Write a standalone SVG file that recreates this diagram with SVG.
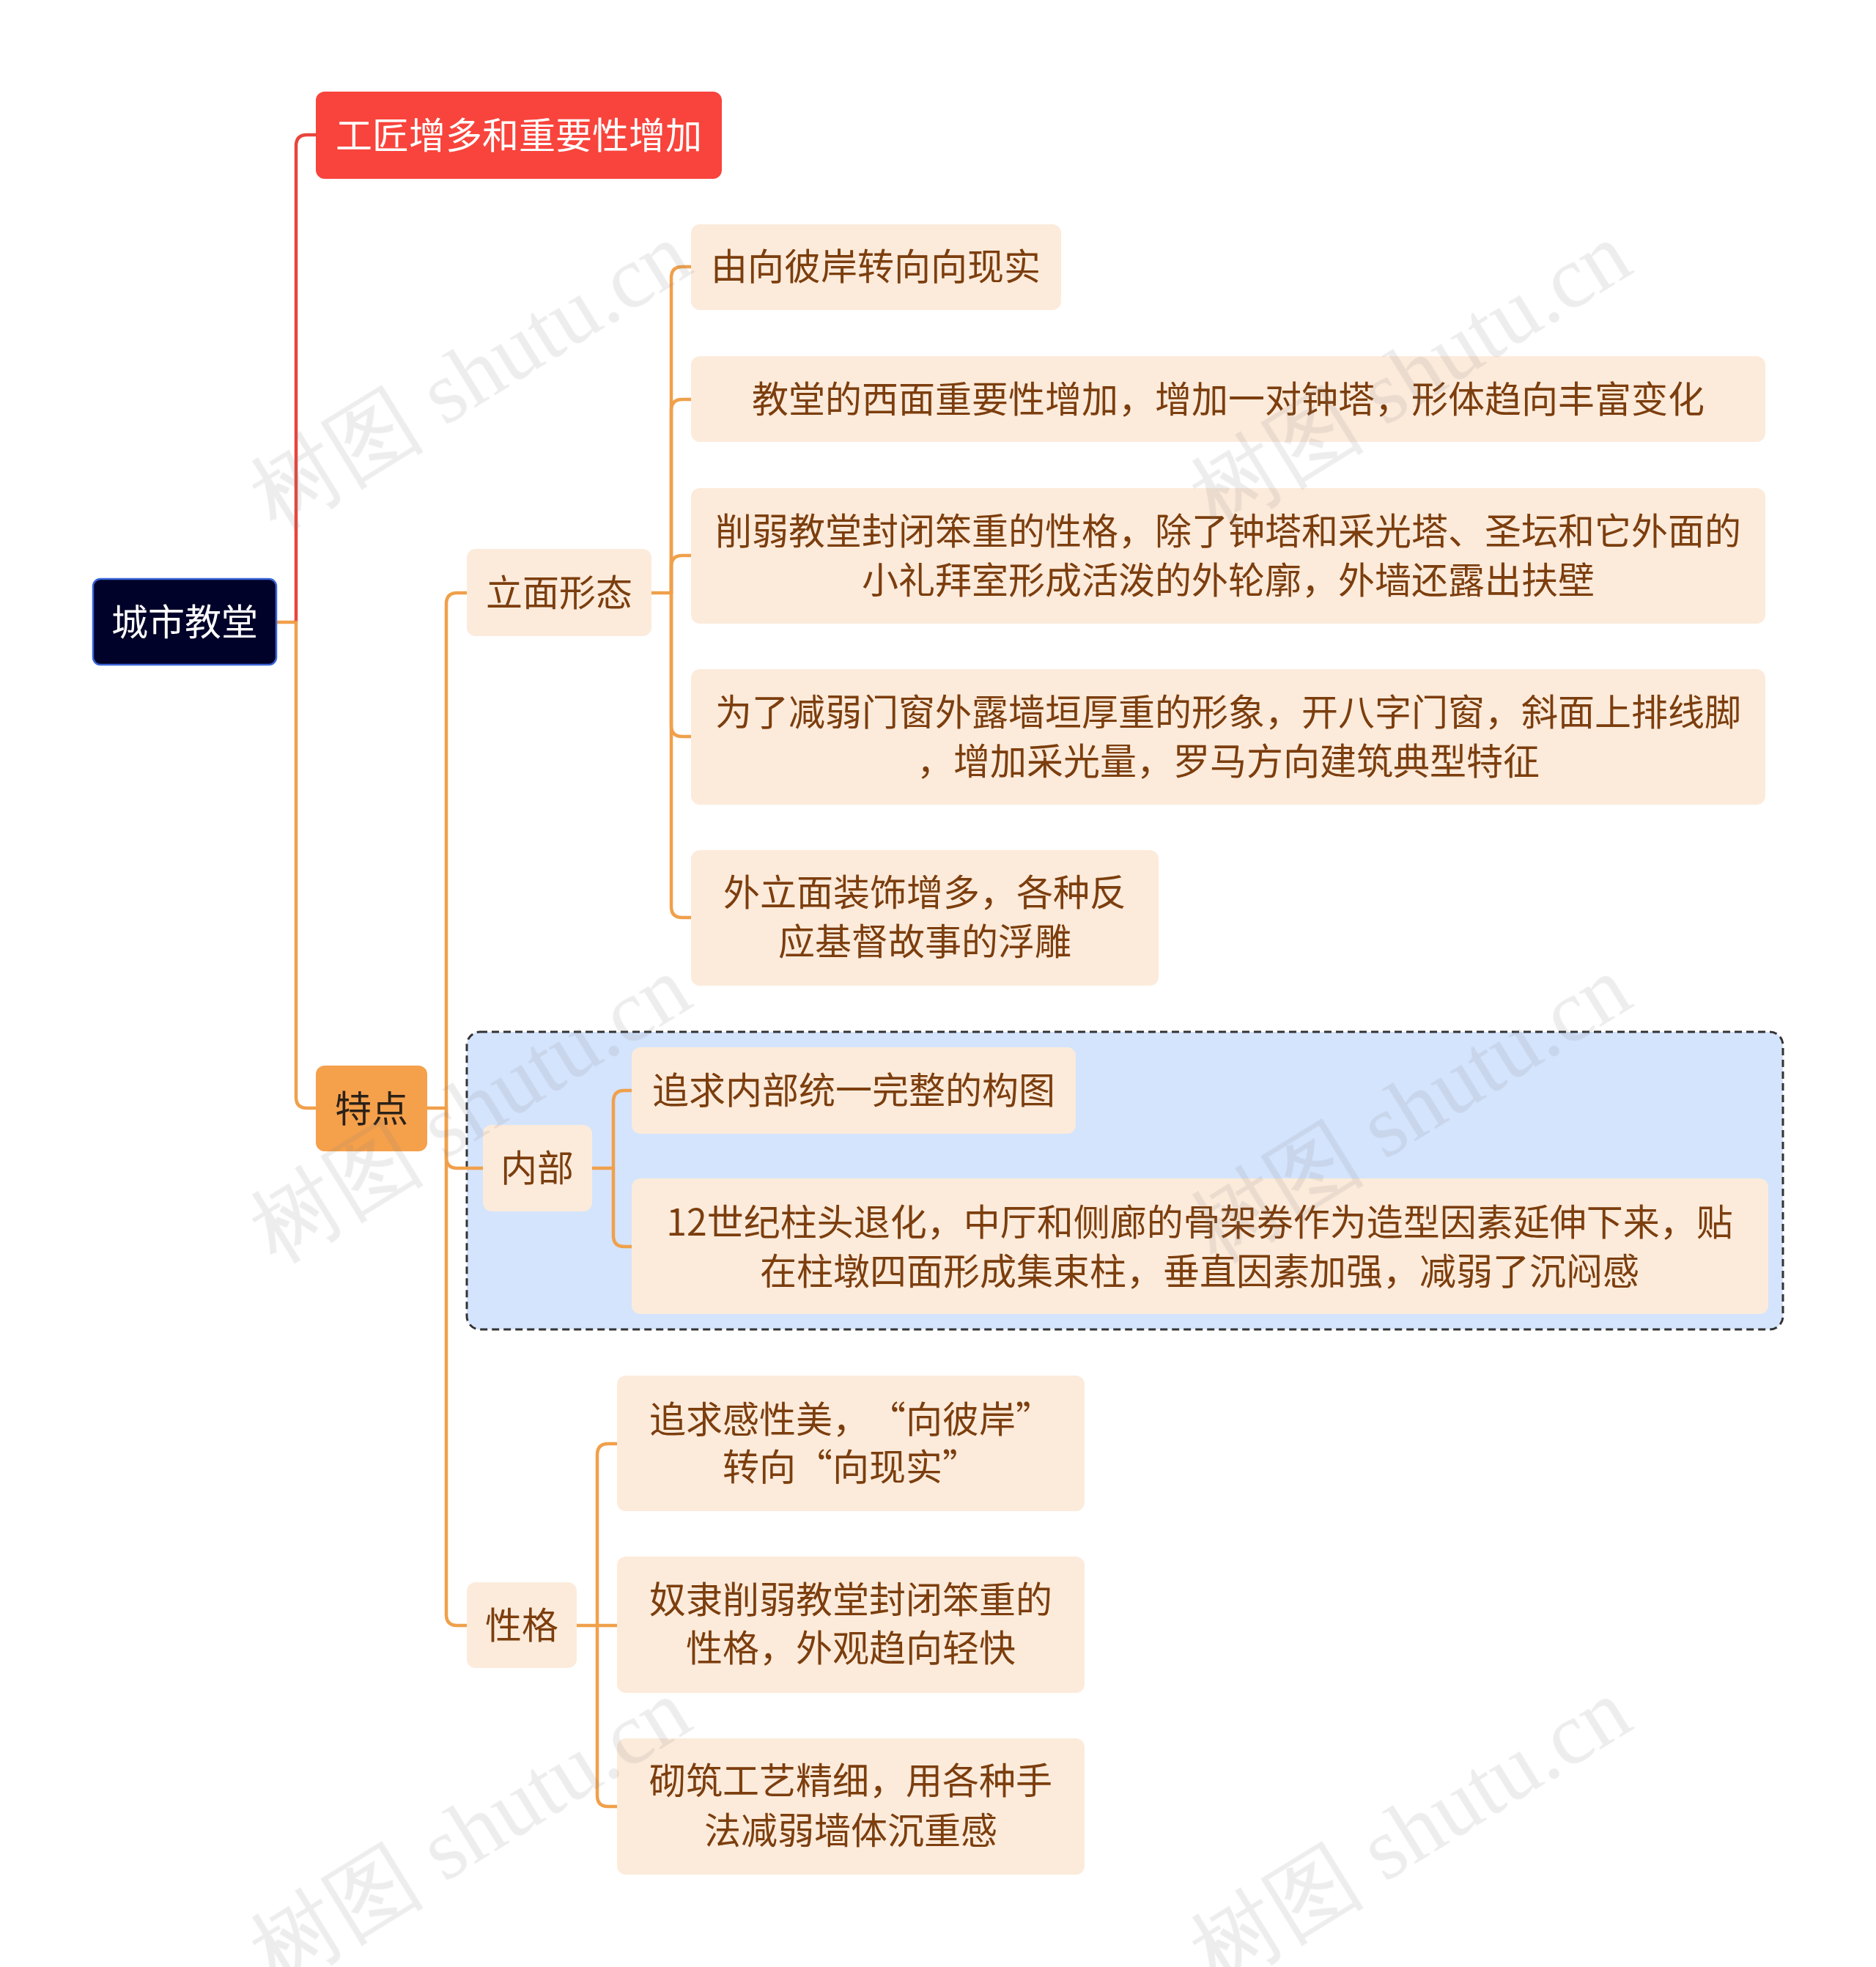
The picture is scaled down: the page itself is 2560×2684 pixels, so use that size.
<svg xmlns="http://www.w3.org/2000/svg" width="2560" height="2684" viewBox="0 0 2560 2684">
<style>
text{font-family:"Noto Sans CJK SC","Noto Sans",sans-serif;font-size:50px;text-anchor:middle;text-spacing-trim:space-all}
.t{fill:#7C3E0E}
.q{font-feature-settings:"fwid"}
.n{fill:#FCEBDB}
.c{fill:none;stroke:#F0A04B;stroke-width:4.5;stroke-linecap:round}
.r{fill:none;stroke:#E8453C;stroke-width:4.5;stroke-linecap:round}
.wm{font-family:"Liberation Serif",serif;font-size:120px;fill:#808080;opacity:0.38}
</style>
<rect width="2560" height="2684" fill="#FFFFFF"/>
<g id="boundary">
<rect x="637" y="1408" width="1796" height="406" rx="18" fill="#D4E4FC" stroke="#333" stroke-width="3" stroke-dasharray="10 6"/>
</g>
<g id="connectors">
<path class="c" d="M377,849 H404"/>
<path class="r" d="M404,849 V199 Q404,184 419,184 H431"/>
<path class="c" d="M404,849 V1497 Q404,1512 419,1512 H431"/>
<path class="c" d="M583,1512 H609"/>
<path class="c" d="M609,1512 V824 Q609,809 624,809 H637"/>
<path class="c" d="M609,1512 V1579 Q609,1594 624,1594 H659"/>
<path class="c" d="M609,1512 V2203 Q609,2218 624,2218 H637"/>
<path class="c" d="M889,809 H916"/>
<path class="c" d="M916,809 V379 Q916,364 931,364 H943"/>
<path class="c" d="M916,809 V560 Q916,545 931,545 H943"/>
<path class="c" d="M916,809 V773 Q916,758 931,758 H943"/>
<path class="c" d="M916,809 V990 Q916,1005 931,1005 H943"/>
<path class="c" d="M916,809 V1237 Q916,1252 931,1252 H943"/>
<path class="c" d="M808,1594 H837"/>
<path class="c" d="M837,1594 V1503 Q837,1488 852,1488 H862"/>
<path class="c" d="M837,1594 V1686 Q837,1701 852,1701 H862"/>
<path class="c" d="M787,2218 H842"/>
<path class="c" d="M815,2218 V1985 Q815,1970 830,1970 H842"/>
<path class="c" d="M815,2218 V2450 Q815,2465 830,2465 H842"/>
</g>
<g id="root">
<rect x="127" y="790" width="250" height="117" rx="10" fill="#000229" stroke="#3A64D8" stroke-width="2.5"/>
<text x="252" y="867" fill="#FFFFFF">城市教堂</text>
</g>
<g id="n-craftsmen">
<rect x="431" y="125" width="554" height="119" rx="12" fill="#F8443C"/>
<text x="708" y="203" fill="#FFFFFF">工匠增多和重要性增加</text>
</g>
<g id="n-features">
<rect x="431" y="1454" width="152" height="117" rx="12" fill="#F5A04B"/>
<text x="507" y="1531" fill="#2B2118">特点</text>
</g>
<g id="n-facade">
<rect class="n" x="637" y="749" width="252" height="119" rx="12"/>
<text class="t" x="763" y="827">立面形态</text>
</g>
<g id="n-f1">
<rect class="n" x="943" y="306" width="505" height="117" rx="12"/>
<text class="t" x="1195" y="382">由向彼岸转向向现实</text>
</g>
<g id="n-f2">
<rect class="n" x="943" y="486" width="1466" height="117" rx="12"/>
<text class="t" x="1676" y="563">教堂的西面重要性增加，增加一对钟塔，形体趋向丰富变化</text>
</g>
<g id="n-f3">
<rect class="n" x="943" y="666" width="1466" height="185" rx="12"/>
<text class="t" x="1676" y="743">削弱教堂封闭笨重的性格，除了钟塔和采光塔、圣坛和它外面的</text>
<text class="t" x="1676" y="810">小礼拜室形成活泼的外轮廓，外墙还露出扶壁</text>
</g>
<g id="n-f4">
<rect class="n" x="943" y="913" width="1466" height="185" rx="12"/>
<text class="t" x="1676" y="990">为了减弱门窗外露墙垣厚重的形象，开八字门窗，斜面上排线脚</text>
<text class="t" x="1676" y="1057">，增加采光量，罗马方向建筑典型特征</text>
</g>
<g id="n-f5">
<rect class="n" x="943" y="1160" width="638" height="185" rx="12"/>
<text class="t" x="1262" y="1236">外立面装饰增多，各种反</text>
<text class="t" x="1262" y="1303">应基督故事的浮雕</text>
</g>
<g id="n-interior">
<rect class="n" x="659" y="1535" width="149" height="118" rx="12"/>
<text class="t" x="733" y="1612">内部</text>
</g>
<g id="n-i1">
<rect class="n" x="862" y="1429" width="606" height="118" rx="12"/>
<text class="t" x="1165" y="1506">追求内部统一完整的构图</text>
</g>
<g id="n-i2">
<rect class="n" x="862" y="1608" width="1551" height="185" rx="12"/>
<text class="t" x="1637" y="1686">12世纪柱头退化，中厅和侧廊的骨架券作为造型因素延伸下来，贴</text>
<text class="t" x="1637" y="1753">在柱墩四面形成集束柱，垂直因素加强，减弱了沉闷感</text>
</g>
<g id="n-character">
<rect class="n" x="637" y="2159" width="150" height="117" rx="12"/>
<text class="t" x="712" y="2236">性格</text>
</g>
<g id="n-c1">
<rect class="n" x="842" y="1877" width="638" height="185" rx="12"/>
<text class="t q" x="1161" y="1955">追求感性美，“向彼岸”</text>
<text class="t q" x="1161" y="2020">转向“向现实”</text>
</g>
<g id="n-c2">
<rect class="n" x="842" y="2124" width="638" height="186" rx="12"/>
<text class="t" x="1161" y="2201">奴隶削弱教堂封闭笨重的</text>
<text class="t" x="1161" y="2267">性格，外观趋向轻快</text>
</g>
<g id="n-c3">
<rect class="n" x="842" y="2372" width="638" height="186" rx="12"/>
<text class="t" x="1161" y="2448">砌筑工艺精细，用各种手</text>
<text class="t" x="1161" y="2516">法减弱墙体沉重感</text>
</g>
<g id="watermarks" class="wm">
<text class="wm" transform="translate(642,513) rotate(-31.7)" y="40">树图 shutu.cn</text>
<text class="wm" transform="translate(1925,513) rotate(-31.7)" y="40">树图 shutu.cn</text>
<text class="wm" transform="translate(642,1514) rotate(-31.7)" y="40">树图 shutu.cn</text>
<text class="wm" transform="translate(1925,1514) rotate(-31.7)" y="40">树图 shutu.cn</text>
<text class="wm" transform="translate(642,2500) rotate(-31.7)" y="40">树图 shutu.cn</text>
<text class="wm" transform="translate(1925,2500) rotate(-31.7)" y="40">树图 shutu.cn</text>
</g>
</svg>
